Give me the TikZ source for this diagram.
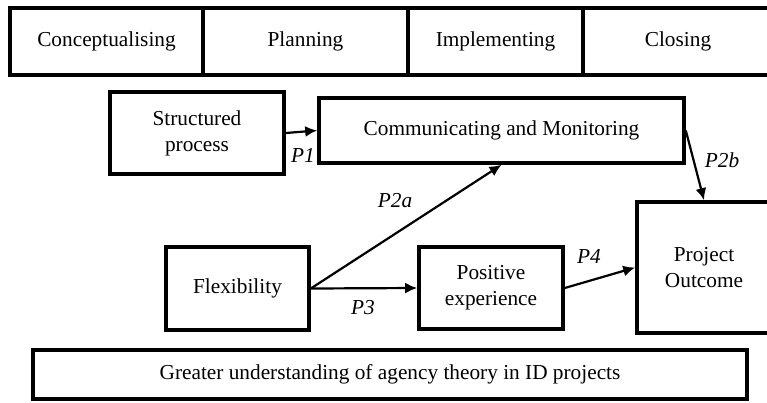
\documentclass[tikz,border=0pt]{standalone}
\usepackage{fontspec}
\setmainfont{Liberation Serif}
\usetikzlibrary{arrows.meta}

\tikzset{
	phasebox/.style={draw, line width=3.6pt, minimum height=67pt, inner sep=0pt},
	factorbox/.style={draw, line width=3.6pt, align=center, inner sep=0pt},
	link/.style={line width=2.2pt, -{Latex[length=12pt,width=11pt]}},
	plabel/.style={font=\fontsize{21.3}{26}\selectfont\itshape}
}

\begin{document}
\begin{tikzpicture}[x=1pt, y=-1pt, every node/.style={font=\fontsize{21.3}{26}\selectfont}]
		%%%%% START %%%%%
		\useasboundingbox (0, 0) rectangle (767, 402);
		\clip (0, 0) rectangle (767, 402);
		
		\node[phasebox, minimum width=193pt] (concept) at (106.5, 41.5) {Conceptualising};
		\node[phasebox, minimum width=205pt] (plan) at (305.5, 41.5) {Planning};
		\node[phasebox, minimum width=175pt] (implement) at (495.5, 41.5) {Implementing};
		\node[phasebox, minimum width=190pt] (closing) at (678, 41.5) {Closing};
		
		\node[factorbox, minimum width=174pt, minimum height=82pt] (structured) at (197, 133) {Structured\\process};
		\node[factorbox, minimum width=365pt, minimum height=65pt] (communicating) at (501.5, 130.5) {Communicating and Monitoring};
		
		\node[factorbox, minimum width=143pt, minimum height=83pt] (flexibility) at (237.5, 288.5) {Flexibility};
		\node[factorbox, minimum width=144pt, minimum height=82pt] (positive) at (491, 288) {Positive\\experience};
		\node[factorbox, minimum width=134pt, minimum height=131pt] (outcome) at (704, 267.5) {Project\\Outcome};
		
		\node[factorbox, minimum width=714pt, minimum height=49pt] (agency) at (390, 374.5) {Greater understanding of agency theory in ID projects};
		
		\draw[link] (structured.east) -- (communicating.west);
		\draw[link] (flexibility.east) -- (communicating.south);
		\draw[link] (flexibility.east) -- (positive.west);
		\draw[link] (positive.east) -- (outcome.west);
		\draw[link] (communicating.east) -- (outcome.north);
		
		\node[plabel] (p1) at (303, 155) {P1};
		\node[plabel] (p2a) at (395, 201) {P2a};
		\node[plabel] (p2b) at (722, 160) {P2b};
		\node[plabel] (p3) at (363, 308) {P3};
		\node[plabel] (p4) at (589, 256) {P4};
		
		%%%%% END %%%%%
	\end{tikzpicture}
\end{document}
